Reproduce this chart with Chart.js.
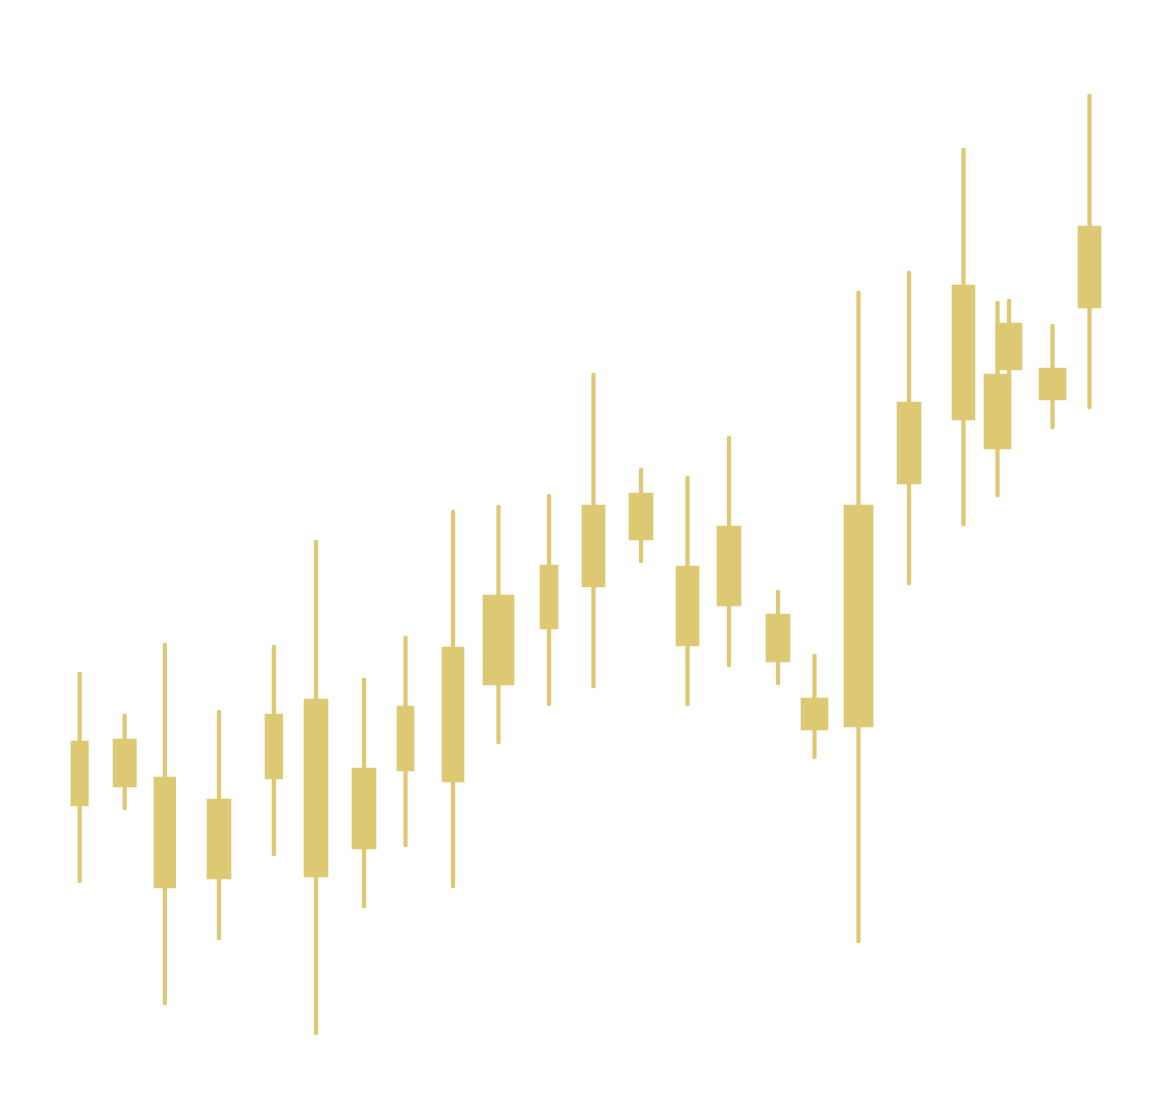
<!DOCTYPE html>
<html>
<head>
<meta charset="utf-8">
<script src="https://cdn.jsdelivr.net/npm/chart.js@4.4.1/dist/chart.umd.min.js"></script>
<style>
html,body{margin:0;padding:0;background:#ffffff;}
#wrap{width:1161px;height:1096px;position:relative;}
</style>
</head>
<body>
<div id="wrap"><canvas id="chart"></canvas></div>
<script>
// Candle periods (start / end of each period on the time axis)
const periodStart = [7.1, 11.3, 15.4, 20.7, 26.5, 30.4, 35.2, 39.7, 44.2, 48.3, 54.0, 58.2, 62.9, 67.6, 71.7, 76.6, 80.1, 84.4, 89.7, 95.2, 98.4, 99.6, 103.9, 107.8];
const periodEnd   = [8.83, 13.63, 17.57, 23.1, 28.27, 32.8, 37.6, 41.4, 46.4, 51.4, 55.8, 60.5, 65.3, 69.9, 74.1, 79.0, 82.8, 87.3, 92.1, 97.5, 101.1, 102.2, 106.6, 110.1];
// Prices
const openPrices  = [35.5, 35.7, 31.9, 29.7, 38.2, 39.7, 32.8, 39.0, 44.9, 50.1, 53.1, 59.1, 60.3, 53.0, 57.0, 48.2, 39.8, 59.1, 69.4, 81.1, 72.2, 77.3, 72.8, 87.0];
const closePrices = [29.0, 30.9, 20.8, 21.7, 31.7, 21.9, 24.7, 32.5, 31.4, 41.1, 46.7, 50.9, 55.6, 45.0, 49.0, 43.4, 36.6, 36.9, 61.2, 67.6, 64.7, 72.6, 69.6, 78.8];
const highPrices  = [42.4, 38.2, 45.3, 38.6, 45.1, 55.6, 41.8, 46.0, 58.6, 59.1, 60.2, 72.3, 62.8, 62.0, 66.0, 50.6, 44.2, 80.5, 82.5, 94.8, 79.5, 79.7, 77.2, 100.2];
const lowPrices   = [21.3, 28.6,  9.1, 15.6, 24.0,  6.1, 18.8, 24.9, 20.8, 35.2, 39.0, 40.8, 53.3, 39.0, 42.9, 41.1, 33.7, 15.3, 51.1, 57.0, 59.9, 70.3, 66.7, 68.7];
// Axis extents
const timeRange  = [0, 116.1];
const priceRange = [0, 109.6];

const candleColor = '#ddc873';
const mid = i => (periodStart[i] + periodEnd[i]) / 2;

const datasets = [];
// wicks (low..high)
datasets.push({
  label: 'wick',
  data: highPrices.map((h, i) => ({ x: mid(i), y: [lowPrices[i], h] })),
  backgroundColor: candleColor,
  barThickness: 3.6,
  borderRadius: 2,
  borderSkipped: false,
  grouped: false,
  order: 2
});
// bodies (open..close), width spanning the candle period
periodStart.forEach((s, i) => {
  datasets.push({
    label: 'body' + i,
    data: [{ x: mid(i), y: [openPrices[i], closePrices[i]] }],
    backgroundColor: candleColor,
    borderSkipped: false,
    grouped: false,
    order: 1,
    barThickness: (ctx) => {
      const sc = ctx.chart.scales && ctx.chart.scales.x;
      if (!sc || !sc.width) return 20;
      return Math.abs(sc.getPixelForValue(periodEnd[i]) - sc.getPixelForValue(periodStart[i]));
    }
  });
});

new Chart(document.getElementById('chart'), {
  type: 'bar',
  data: { datasets },
  options: {
    responsive: true,
    maintainAspectRatio: false,
    animation: false,
    layout: { padding: 0 },
    plugins: { legend: { display: false }, tooltip: { enabled: false } },
    scales: {
      x: { type: 'linear', offset: false, min: timeRange[0], max: timeRange[1], display: false },
      y: { type: 'linear', min: priceRange[0], max: priceRange[1], display: false }
    }
  }
});
</script>
</body>
</html>
